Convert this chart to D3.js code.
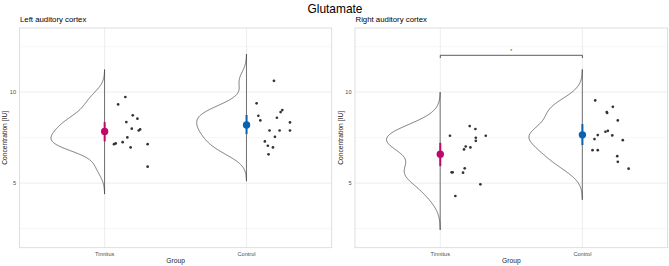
<!DOCTYPE html>
<html>
<head>
<meta charset="utf-8">
<script src="https://cdn.jsdelivr.net/npm/d3@7"></script>
<style>
  body { margin: 0; background: #fff; }
  text { font-family: "Liberation Sans", Arial, sans-serif; }
</style>
</head>
<body>
<script>
// data
const panels = ["Left auditory cortex", "Right auditory cortex"];
const groups = ["Tinnitus", "Control"];
const groupColors = ["#c0086b", "#0a61ad"];
const yTicks = [5, 10];

const leftTinnitus = [9.73, 9.32, 8.72, 8.54, 8.35, 7.99, 7.95, 7.89, 7.51, 7.25, 7.18, 7.14, 6.96, 7.14, 5.90];
const leftTinnitusJitter = [.146, .095, .198, .231, .153, .191, .250, .240, .160, .127, .078, .066, .183, .303, .303];
const leftControl = [10.62, 9.38, 9.01, 8.90, 8.70, 8.59, 8.44, 8.33, 7.89, 7.89, 7.89, 7.54, 7.29, 7.05, 6.96, 6.58];
const leftControlJitter = [.193, .071, .252, .240, .083, .214, .097, .306, .162, .233, .306, .200, .129, .150, .186, .155];
const rightTinnitus = [8.13, 7.97, 7.60, 7.60, 7.49, 7.32, 7.01, 6.96, 6.85, 5.59, 5.59, 5.57, 5.81, 4.93, 4.29];
const rightTinnitusJitter = [.207, .247, .068, .320, .250, .250, .179, .212, .167, .080, .087, .160, .172, .282, .106];
const rightControl = [9.54, 9.19, 8.90, 8.85, 8.44, 7.87, 7.82, 7.64, 7.62, 7.42, 7.36, 6.81, 6.81, 6.48, 6.17, 5.79];
const rightControlJitter = [.090, .214, .171, .174, .249, .179, .162, .108, .210, .085, .284, .071, .108, .245, .249, .325];

// mean and error bar ends, [Tinnitus, Control]
const leftMeans = [7.84, 8.19];
const leftLow = [7.29, 7.69];
const leftHigh = [8.35, 8.74];
const rightMeans = [6.58, 7.65];
const rightLow = [5.93, 7.09];
const rightHigh = [7.21, 8.24];

const sigLabel = "*";
const sigY = 12.02;

const panelData = [
  { values: [leftTinnitus, leftControl], jitter: [leftTinnitusJitter, leftControlJitter],
    means: leftMeans, low: leftLow, high: leftHigh, sig: false },
  { values: [rightTinnitus, rightControl], jitter: [rightTinnitusJitter, rightControlJitter],
    means: rightMeans, low: rightLow, high: rightHigh, sig: true }
];

const W = 669, H = 266;
const pTop = 28, pBottom = 247.7;
const panelX = [[19.5, 331.7], [355, 667.7]];
const halfMax = 0.378;

const svg = d3.select("body").append("svg")
  .attr("width", W).attr("height", H);

svg.append("text")
  .attr("x", 335).attr("y", 12.8)
  .attr("text-anchor", "middle")
  .style("font-size", "11.9px")
  .attr("fill", "#000")
  .text("Glutamate");

// R style nrd0 bandwidth + gaussian kde
function nrd0(v) {
  const s = d3.deviation(v);
  const sorted = v.slice().sort(d3.ascending);
  const iqr = d3.quantileSorted(sorted, 0.75) - d3.quantileSorted(sorted, 0.25);
  const lo = Math.min(s, iqr / 1.34);
  return 0.9 * lo * Math.pow(v.length, -0.2);
}
function kde(v) {
  const bw = nrd0(v);
  const lo = d3.min(v) - 3 * bw, hi = d3.max(v) + 3 * bw;
  const n = 512, out = [];
  for (let i = 0; i < n; i++) {
    const y = lo + (hi - lo) * i / (n - 1);
    let s = 0;
    v.forEach(x => { const u = (y - x) / bw; s += Math.exp(-0.5 * u * u); });
    out.push([y, s / (v.length * bw * Math.sqrt(2 * Math.PI))]);
  }
  return out;
}

panelData.forEach((p, pi) => {
  const [x0, x1] = panelX[pi];
  const x = d3.scaleLinear().domain([0.4, 2.6]).range([x0, x1]);
  const y = d3.scaleLinear().domain([1.45, 13.52]).range([pBottom, pTop]);
  const g = svg.append("g");

  // grid
  const minor = [2.5, 7.5, 12.5];
  g.selectAll(".minor").data(minor).enter().append("line")
    .attr("x1", x0).attr("x2", x1)
    .attr("y1", d => y(d)).attr("y2", d => y(d))
    .attr("stroke", "#f2f2f2").attr("stroke-width", 0.6);
  g.selectAll(".major").data(yTicks).enter().append("line")
    .attr("x1", x0).attr("x2", x1)
    .attr("y1", d => y(d)).attr("y2", d => y(d))
    .attr("stroke", "#e8e8e8").attr("stroke-width", 0.8);
  g.selectAll(".vmajor").data([1, 2]).enter().append("line")
    .attr("x1", d => x(d)).attr("x2", d => x(d))
    .attr("y1", pTop).attr("y2", pBottom)
    .attr("stroke", "#e8e8e8").attr("stroke-width", 0.8);

  g.append("rect")
    .attr("x", x0).attr("y", pTop)
    .attr("width", x1 - x0).attr("height", pBottom - pTop)
    .attr("fill", "none").attr("stroke", "#d6d6d6").attr("stroke-width", 0.8);

  // y axis labels
  g.selectAll(".ytick").data(yTicks).enter().append("text")
    .attr("x", x0 - 3.5).attr("y", d => y(d) + 2)
    .attr("text-anchor", "end")
    .style("font-size", "5.6px").attr("fill", "#4d4d4d")
    .text(d => d);

  g.append("text")
    .attr("transform", `translate(${x0 - 12.3},${(pTop + pBottom) / 2}) rotate(-90)`)
    .attr("text-anchor", "middle")
    .style("font-size", "6.7px").attr("fill", "#1a1a1a")
    .text("Concentration [IU]");

  // x axis labels
  g.selectAll(".xtick").data(groups).enter().append("text")
    .attr("x", (d, i) => x(i + 1)).attr("y", 255.5)
    .attr("text-anchor", "middle")
    .style("font-size", "5.6px").attr("fill", "#4d4d4d")
    .text(d => d);

  g.append("text")
    .attr("x", (x0 + x1) / 2).attr("y", 262.6)
    .attr("text-anchor", "middle")
    .style("font-size", "6.7px").attr("fill", "#1a1a1a")
    .text("Group");

  g.append("text")
    .attr("x", x0 + 0.5).attr("y", 22)
    .style("font-size", "7.8px").attr("fill", "#000")
    .text(panels[pi]);

  // half violins, area scaled inside the panel
  const dens = p.values.map(kde);
  const maxD = d3.max(dens, d => d3.max(d, e => e[1]));
  dens.forEach((d, gi) => {
    const line = d3.line()
      .x(e => x(gi + 1 - e[1] / maxD * halfMax))
      .y(e => y(e[0]));
    g.append("path")
      .attr("d", line(d) + "Z")
      .attr("fill", "none")
      .attr("stroke", "#3a3a3a")
      .attr("stroke-width", 0.7);
  });

  // jittered points
  p.values.forEach((vals, gi) => {
    g.selectAll(null).data(vals).enter().append("circle")
      .attr("cx", (d, i) => x(gi + 1 + p.jitter[gi][i]))
      .attr("cy", d => y(d))
      .attr("r", 1.35)
      .attr("fill", "#333");
  });

  // mean and interval
  groups.forEach((grp, gi) => {
    g.append("line")
      .attr("x1", x(gi + 1)).attr("x2", x(gi + 1))
      .attr("y1", y(p.low[gi])).attr("y2", y(p.high[gi]))
      .attr("stroke", groupColors[gi]).attr("stroke-width", 2);
    g.append("circle")
      .attr("cx", x(gi + 1)).attr("cy", y(p.means[gi]))
      .attr("r", 3.7)
      .attr("fill", groupColors[gi]);
  });

  if (p.sig) {
    const yb = y(sigY), tick = 2.8;
    g.append("path")
      .attr("d", `M${x(1)},${yb + tick}V${yb}H${x(2)}V${yb + tick}`)
      .attr("fill", "none").attr("stroke", "#333").attr("stroke-width", 0.8);
    g.append("text")
      .attr("x", (x(1) + x(2)) / 2).attr("y", yb - 2.5)
      .attr("text-anchor", "middle")
      .style("font-size", "5px").attr("fill", "#333")
      .text(sigLabel);
  }
});
</script>
</body>
</html>
